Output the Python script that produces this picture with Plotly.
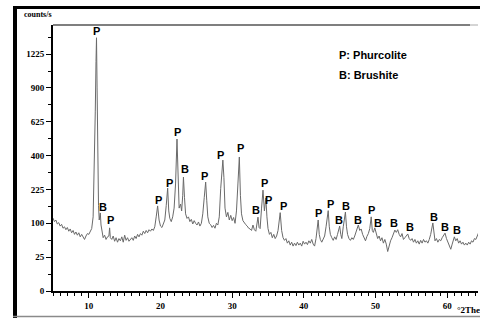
import numpy as np
import plotly.graph_objects as go

# ---- data: XRD pattern (2theta in degrees, intensity in counts/s) ----
two_theta = [
    5.0, 5.2, 5.4, 5.6, 5.8, 6.0, 6.2, 6.4, 6.6, 6.8, 7.0, 7.2, 7.4, 7.6, 7.8, 8.0, 8.2, 8.4, 8.6, 8.8, 9.0, 9.2, 9.4, 9.6, 9.8, 10.0, 10.2, 10.4,
    10.6, 10.75, 10.9, 11.0, 11.07, 11.15, 11.25, 11.35, 11.45, 11.6, 11.7, 11.85,
    12.0, 12.2, 12.4, 12.6, 12.8, 12.9, 13.0, 13.2, 13.4, 13.6, 13.8, 14.0, 14.2, 14.4, 14.6, 14.8, 15.0, 15.2, 15.4, 15.6, 15.8, 16.0, 16.2, 16.4, 16.6, 16.8, 17.0, 17.2, 17.4, 17.6, 17.8, 18.0, 18.2, 18.4, 18.6, 18.8, 19.0, 19.2,
    19.4, 19.6, 19.8, 20.0, 20.2, 20.4, 20.6, 20.8, 21.0, 21.15, 21.3, 21.5, 21.7, 21.9, 22.1, 22.3, 22.45, 22.6, 22.8, 22.95, 23.1, 23.2, 23.35, 23.5, 23.7, 23.9,
    24.1, 24.3, 24.5, 24.7, 24.9, 25.1, 25.3, 25.5, 25.7, 25.9, 26.1, 26.3, 26.45, 26.6, 26.8, 27.0, 27.2, 27.4, 27.6, 27.8, 28.0, 28.2,
    28.4, 28.55, 28.7, 28.85, 29.0, 29.2, 29.4, 29.6, 29.8, 30.0, 30.2, 30.4, 30.6, 30.8, 31.0, 31.15, 31.3, 31.5, 31.7, 31.9,
    32.1, 32.3, 32.5, 32.7, 32.9, 33.1, 33.3, 33.5, 33.6, 33.75, 33.9, 34.1, 34.3, 34.5, 34.7, 34.85, 35.0, 35.2, 35.4, 35.6, 35.8, 36.0, 36.2, 36.4, 36.7, 36.9, 37.1,
    37.3, 37.5, 37.7, 37.9, 38.1, 38.3, 38.5, 38.7, 38.9, 39.1, 39.3, 39.5, 39.7, 39.9, 40.1, 40.3, 40.5, 40.7, 40.9, 41.1, 41.3, 41.5, 41.7, 41.9,
    42.0, 42.15, 42.3, 42.5, 42.7, 42.9, 43.1, 43.4, 43.55, 43.7, 43.9, 44.1, 44.3, 44.5, 44.7, 44.85, 45.0, 45.15, 45.3, 45.5, 45.65, 45.8, 45.95, 46.1, 46.3, 46.5, 46.7, 46.9, 47.1,
    47.3, 47.6, 47.8, 48.0, 48.2, 48.4, 48.6, 48.8, 49.0, 49.2, 49.4, 49.55, 49.7, 49.9, 50.1, 50.3, 50.5, 50.7, 50.9, 51.1, 51.3, 51.5, 51.7,
    51.9, 52.1, 52.3, 52.5, 52.7, 52.9, 53.1, 53.3, 53.5, 53.7, 53.9, 54.1, 54.3, 54.5, 54.7, 54.9, 55.1, 55.3, 55.5, 55.7, 55.9, 56.1, 56.3, 56.5, 56.7, 56.9, 57.1, 57.3, 57.5, 57.7,
    58.0, 58.15, 58.3, 58.5, 58.7, 58.9, 59.1, 59.3, 59.5, 59.7, 59.9, 60.1, 60.3, 60.5, 60.7, 60.9, 61.0, 61.2, 61.4, 61.6, 61.8, 62.0, 62.2, 62.4, 62.6, 62.8, 63.0, 63.2, 63.4, 63.6, 63.8, 64.0, 64.2, 64.4,
]
counts = [
    116, 105, 110, 98, 102, 92, 97, 86, 90, 82, 88, 78, 84, 74, 80, 70, 76, 68, 74, 64, 70, 62, 58, 66, 72, 70, 78, 85,
    120, 300, 700, 1150, 1400, 900, 350, 160, 110, 133, 95, 70,
    62, 68, 58, 64, 66, 87, 62, 58, 66, 54, 62, 52, 60, 55, 64, 52, 68, 56, 62, 54, 58, 62, 56, 66, 60, 70, 64, 72, 68, 78, 72, 80, 74, 82, 78, 84, 80, 90,
    120, 158, 110, 92, 88, 98, 110, 160, 231, 140, 115, 105, 120, 150, 250, 504, 260, 150, 165, 140, 200, 283, 190, 130, 115, 120,
    105, 112, 98, 108, 100, 95, 104, 92, 100, 130, 190, 259, 180, 120, 100, 96, 88, 94, 86, 100, 95, 120,
    230, 300, 374, 280, 150, 120, 135, 110, 125, 108, 118, 100, 140, 250, 392, 200, 130, 108, 100, 96,
    92, 86, 84, 80, 95, 82, 78, 100, 119, 88, 85, 150, 222, 140, 189, 120, 85, 70, 75, 62, 70, 60, 66, 80, 134, 80, 62,
    56, 60, 50, 55, 46, 52, 44, 50, 45, 52, 46, 50, 44, 54, 48, 52, 47, 55, 50, 58, 48, 44, 60, 85,
    110, 70, 58, 52, 60, 66, 90, 141, 90, 70, 62, 56, 64, 58, 70, 80, 92, 70, 60, 90, 110, 136, 90, 70, 60, 56, 62, 58, 66,
    75, 95, 80, 84, 70, 60, 55, 65, 72, 85, 120, 80, 75, 87, 70, 60, 66, 55, 62, 50, 58, 48, 34,
    45, 55, 62, 70, 81, 75, 82, 70, 64, 72, 58, 62, 66, 71, 60, 56, 60, 52, 58, 50, 55, 48, 56, 50, 58, 52, 55, 50, 58, 70,
    101, 70, 55, 60, 52, 58, 55, 62, 68, 73, 60, 52, 45, 38, 48, 58, 64, 55, 60, 50, 55, 48, 52, 46, 50, 46, 52, 48, 55, 52, 60, 58, 68, 75,
]
assert len(two_theta) == len(counts), (len(two_theta), len(counts))

# ---- peak labels ----
label_text = ["P", "B", "P", "P", "P", "P", "B", "P", "P", "P", "B", "P", "P",
              "P", "P", "P", "B", "B", "B", "P", "B", "B", "B", "B", "B", "B"]
label_x = [11.12, 11.91, 13.03, 19.72, 21.30, 22.37, 23.43, 26.18, 28.41, 31.20, 33.29, 34.45, 35.06,
           37.15, 42.08, 43.75, 44.87, 45.94, 47.56, 49.43, 50.31, 52.54, 54.77, 58.12, 59.69, 61.32]
label_y = [1475, 155, 110, 181, 254, 554, 325, 289, 404, 448, 143, 256, 181,
           159, 133, 165, 110, 159, 110, 143, 102, 102, 90, 119, 90, 81]

# ---- axis ticks (square-root intensity scale) ----
y_tick_counts = [0, 25, 100, 225, 400, 625, 900, 1225]
y_tick_labels = ["0", "25", "100", "225", "400", "625", "900", "1225"]
x_tick_vals = [10, 20, 30, 40, 50, 60]
x_tick_labels = ["10", "20", "30", "40", "50", "60"]

legend_lines = ["P: Phurcolite", "B: Brushite"]

W, H = 480, 318
# plot area in pixels
PL, PR, PT, PB = 53, 478, 25, 291


def fx(xp):
    return xp / W


def fy(yp):
    return 1 - yp / H


SERIF = "Liberation Serif, Times New Roman, serif"
SANS = "Liberation Sans, Arial, sans-serif"

fig = go.Figure()
fig.add_trace(go.Scatter(
    x=two_theta, y=np.sqrt(np.array(counts, dtype=float)), mode="lines",
    line=dict(color="#6a6a6a", width=1), hoverinfo="skip", showlegend=False,
))

# page frame drawn on an overlay pixel axis spanning the whole figure
fig.add_trace(go.Scatter(x=[15, 15], y=[6, 330], xaxis="x2", yaxis="y2", mode="lines",
                         line=dict(color="black", width=4), hoverinfo="skip", showlegend=False))
fig.add_trace(go.Scatter(x=[13, 490], y=[7.5, 7.5], xaxis="x2", yaxis="y2", mode="lines",
                         line=dict(color="black", width=3), hoverinfo="skip", showlegend=False))
fig.add_trace(go.Scatter(x=[13, 490], y=[316.5, 316.5], xaxis="x2", yaxis="y2", mode="lines",
                         line=dict(color="#8a8a8a", width=1.5), hoverinfo="skip", showlegend=False))

tickfont = dict(family=SERIF, size=9, color="black")

fig.update_layout(
    width=W, height=H,
    margin=dict(l=0, r=0, t=0, b=0),
    paper_bgcolor="white", plot_bgcolor="rgba(0,0,0,0)",
    showlegend=False,
    xaxis=dict(
        domain=[fx(PL), fx(PR)],
        range=[5, 64.3], showgrid=False, zeroline=False, automargin=False,
        showline=True, linecolor="black", linewidth=2,
        tickmode="array", tickvals=x_tick_vals, ticktext=[f"<b>{t}</b>" for t in x_tick_labels],
        ticks="outside", ticklen=5, tickwidth=1, tickcolor="black",
        tickfont=tickfont,
        minor=dict(dtick=1, tick0=0, ticks="outside", ticklen=3, tickwidth=1, tickcolor="black"),
    ),
    yaxis=dict(
        domain=[fy(PB), fy(PT)],
        range=[0, 39.3], showgrid=False, zeroline=False, automargin=False,
        showline=True, linecolor="black", linewidth=2,
        tickmode="array", tickvals=list(np.sqrt(y_tick_counts)),
        ticktext=[f"<b>{t}</b>" for t in y_tick_labels],
        ticks="outside", ticklen=5, tickwidth=1, tickcolor="black",
        tickfont=tickfont,
        minor=dict(dtick=2.5, tick0=0, ticks="outside", ticklen=3, tickwidth=1, tickcolor="black"),
    ),
    xaxis2=dict(domain=[0, 1], range=[0, W], visible=False, fixedrange=True),
    yaxis2=dict(domain=[0, 1], range=[H, 0], visible=False, fixedrange=True),
)

annotations = []
for t, lx, ly in zip(label_text, label_x, label_y):
    annotations.append(dict(
        x=lx, y=float(np.sqrt(ly)), xref="x", yref="y", text=f"<b>{t}</b>", showarrow=False,
        font=dict(family=SANS, size=11, color="black"),
        xanchor="center", yanchor="middle",
    ))
for i, txt in enumerate(legend_lines):
    annotations.append(dict(
        x=fx(337), y=fy(55 + 20 * i), xref="paper", yref="paper", text=f"<b>{txt}</b>",
        showarrow=False,
        font=dict(family=SANS, size=11, color="black"),
        xanchor="left", yanchor="middle",
    ))
annotations.append(dict(
    x=fx(22), y=fy(15), xref="paper", yref="paper", text="<b>counts/s</b>", showarrow=False,
    font=dict(family=SERIF, size=8, color="black"),
    xanchor="left", yanchor="middle",
))
annotations.append(dict(
    x=fx(455), y=fy(310), xref="paper", yref="paper", text="<b>°2Theta</b>", showarrow=False,
    font=dict(family=SERIF, size=9, color="black"),
    xanchor="left", yanchor="middle",
))
fig.update_layout(annotations=annotations)

shapes = [
    # top plot frame line
    dict(type="line", xref="paper", yref="paper", x0=fx(PL), x1=fx(470), y0=fy(PT), y1=fy(PT),
         line=dict(color="black", width=1.2)),
    dict(type="line", xref="paper", yref="paper", x0=fx(470), x1=fx(PR), y0=fy(PT), y1=fy(PT),
         line=dict(color="#aaaaaa", width=1)),
]
fig.update_layout(shapes=shapes)

fig.write_html("out.html", config={"displayModeBar": False},
               post_script="document.body.style.margin='0';document.body.style.padding='0';")
